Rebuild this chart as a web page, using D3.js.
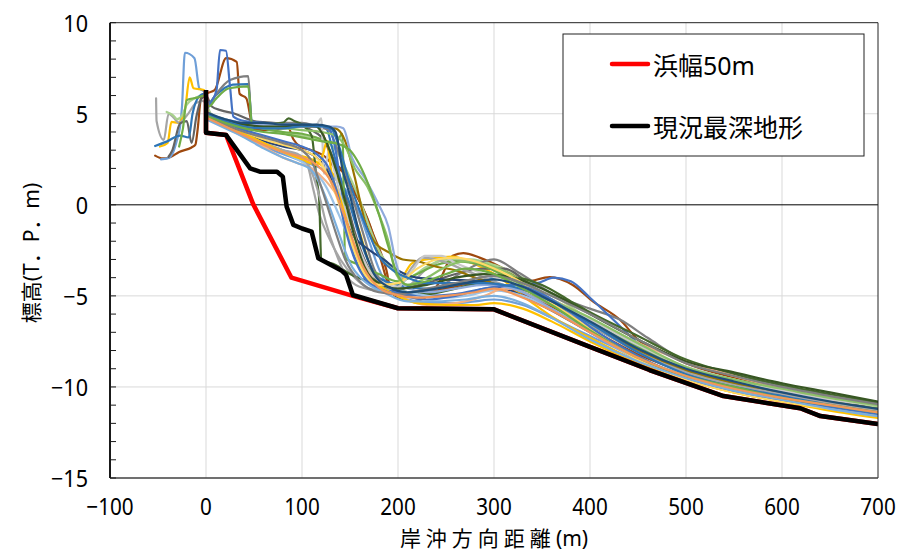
<!DOCTYPE html>
<html><head><meta charset="utf-8">
<script src="https://cdn.jsdelivr.net/npm/d3@7"></script>
<style>
html,body{margin:0;padding:0;background:#fff;}
svg{display:block;font-family:"Noto Sans","Noto Sans CJK JP",sans-serif;}
</style></head><body>
<svg id="chart" width="902" height="552"></svg>
<script>
// Axis ticks
const xTicks = [-100, 0, 100, 200, 300, 400, 500, 600, 700];
const yTicks = [-15, -10, -5, 0, 5, 10];

// Surveyed cross-shore profiles: [distance (m), elevation T.P. (m)]
const p01 = [[-53,2.7],[-45,2.55],[-38,2.6],[-28,2.9],[-15,3.15],[-11,3.3],[-9,4.0],[-5,5.9],[0,6.1],[9,6.3],[21,8.05],[32,7.85],[35,6.1],[42,5.85],[49,4.3],[60,4.25],[85,4.3],[91,3.6],[98,3.2],[110,3.0],[125,2.6],[135,2.0],[145,1.8],[158,0.4],[170,-1.0],[182,-3.0],[192,-4.6],[205,-5.0],[220,-4.9],[250,-4.6],[280,-4.3],[300,-4.4],[330,-4.9],[360,-5.6],[400,-6.8],[450,-8.2],[500,-9.2],[550,-9.9],[600,-10.4],[650,-10.8],[700,-11.2]];
const p02 = [[2,5.1],[20,4.5],[40,4.2],[60,4.1],[80,4.2],[100,4.3],[118,4.3],[125,3.4],[132,2.4],[140,2.0],[150,1.0],[160,0.2],[174,-1.6],[188,-3.6],[193,-4.8],[205,-5.2],[216,-5.3],[240,-4.5],[257,-2.8],[268,-2.65],[285,-2.9],[310,-3.5],[334,-4.2],[358,-3.97],[382,-4.4],[403,-5.3],[431,-6.3],[452,-7.5],[473,-8.0],[500,-8.7],[550,-9.5],[600,-10.1],[650,-10.7],[700,-11.2]];
const p03 = [[-47,2.5],[-40,2.55],[-35,2.8],[-30,3.6],[-27,4.3],[-25,5.4],[-22,8.35],[-12,8.05],[-7,6.4],[-2,6.2],[3,5.0],[15,4.5],[30,4.0],[50,3.5],[70,3.0],[90,2.6],[105,2.3],[120,2.0],[135,1.4],[150,0.5],[160,-0.5],[170,-2.0],[180,-3.5],[190,-4.5],[200,-5.0],[220,-5.3],[240,-5.4],[260,-5.4],[280,-5.3],[300,-5.2],[330,-5.5],[360,-6.2],[400,-7.2],[450,-8.4],[500,-9.4],[550,-10.1],[600,-10.6],[650,-11.1],[700,-11.5]];
const p04 = [[-48,3.2],[-40,3.4],[-36,4.55],[-29,4.5],[-22,5.2],[-17,7.0],[-13,6.4],[-2,6.3],[3,5.0],[15,4.6],[30,4.1],[50,3.6],[70,3.2],[90,2.8],[110,2.5],[125,2.0],[140,1.2],[150,0.0],[160,-1.5],[170,-3.2],[180,-4.3],[195,-4.7],[215,-3.2],[235,-2.95],[257,-2.85],[275,-3.15],[302,-3.85],[330,-5.0],[365,-6.3],[400,-7.3],[450,-8.6],[500,-9.6],[550,-10.3],[600,-10.8],[650,-11.2],[700,-11.6]];
const p05 = [[-52,5.85],[-51.5,4.6],[-44,3.56],[-39,5.0],[-34,4.8],[-28,4.5],[-20,4.9],[-10,5.6],[-3,5.7],[5,5.0],[20,4.6],[40,4.0],[60,3.4],[80,3.0],[95,2.8],[105,2.3],[112,0.8],[118,-0.5],[128,-1.8],[140,-3.0],[155,-4.0],[170,-4.6],[190,-4.8],[210,-4.5],[230,-3.5],[250,-3.0],[270,-3.1],[300,-3.6],[330,-4.5],[360,-5.4],[400,-6.5],[450,-8.0],[500,-9.1],[550,-9.8],[600,-10.3],[650,-10.8],[700,-11.1]];
const p06 = [[-41,5.1],[-37,5.0],[-34,4.9],[-30,4.7],[-25,4.9],[-20,5.5],[-10,5.9],[-3,6.0],[5,5.0],[20,4.7],[40,4.4],[60,4.2],[80,4.0],[100,3.8],[120,3.6],[135,3.0],[150,1.5],[160,0.3],[170,-1.2],[180,-2.5],[195,-3.6],[210,-4.0],[230,-3.4],[250,-3.0],[275,-3.0],[300,-3.3],[330,-4.0],[360,-4.9],[400,-6.3],[450,-7.8],[500,-8.9],[550,-9.6],[600,-10.2],[650,-10.7],[700,-11.1]];
const p07 = [[-39,2.64],[-35,3.0],[-27,4.47],[-20,4.6],[-15,3.4],[-10,4.85],[-5,5.8],[0,6.0],[6,5.4],[15,5.2],[30,5.0],[50,4.6],[70,4.5],[90,4.4],[110,4.1],[125,3.4],[135,2.2],[145,0.5],[155,-1.5],[165,-3.0],[180,-4.2],[200,-4.6],[230,-4.3],[260,-3.8],[290,-3.5],[310,-3.5],[340,-4.5],[370,-5.6],[400,-6.6],[450,-8.0],[500,-9.0],[550,-9.7],[600,-10.2],[650,-10.6],[700,-11.0]];
const p08 = [[-53,3.23],[-41,3.47],[-27,3.8],[-18,3.7],[-14,5.0],[-8,5.9],[-2,6.1],[3,5.6],[10,6.0],[28,6.6],[44,6.63],[48,4.45],[60,4.4],[80,4.5],[100,4.4],[115,4.3],[125,4.2],[132,3.0],[140,1.5],[150,0.0],[160,-1.8],[170,-3.2],[180,-4.0],[200,-4.4],[230,-4.6],[260,-4.4],[290,-4.1],[310,-4.0],[340,-4.6],[370,-5.6],[400,-6.6],[450,-7.9],[500,-9.0],[550,-9.8],[600,-10.3],[650,-10.8],[700,-11.2]];
const p09 = [[0,5.2],[11,6.1],[25,6.85],[44,7.07],[47.5,4.47],[60,4.4],[80,4.5],[100,4.5],[115,4.3],[128,4.1],[135,3.3],[145,1.8],[155,0.0],[165,-1.8],[175,-3.5],[190,-4.6],[210,-5.0],[240,-4.6],[270,-3.6],[300,-3.0],[325,-3.7],[365,-5.0],[400,-5.7],[431,-6.3],[460,-7.3],[500,-8.6],[550,-9.3],[600,-9.9],[650,-10.5],[700,-10.9]];
const p10 = [[0,5.2],[5,5.6],[11,6.3],[14.6,8.5],[20.8,8.46],[25,6.5],[28.5,4.84],[40,4.6],[60,4.5],[80,4.4],[100,4.4],[120,4.3],[128,4.2],[135,3.0],[142,0.5],[150,-2.0],[160,-3.5],[175,-4.4],[200,-4.8],[230,-5.0],[260,-4.9],[290,-4.6],[320,-4.4],[345,-4.3],[362,-4.0],[380,-4.2],[400,-5.1],[430,-6.6],[450,-7.6],[500,-9.2],[550,-10.0],[600,-10.5],[650,-11.0],[700,-11.4]];
const p11 = [[-28,3.2],[-24,4.2],[-20,5.75],[-8,5.9],[-2,6.0],[3,5.4],[10,5.8],[24,6.4],[44,6.5],[48,4.4],[60,4.2],[80,4.0],[100,3.9],[115,3.7],[125,3.5],[135,3.4],[142,3.9],[145,-2.9],[160,-3.3],[180,-3.8],[200,-4.2],[220,-3.8],[240,-3.3],[260,-3.1],[280,-3.2],[300,-3.6],[330,-4.4],[360,-5.2],[400,-6.4],[450,-7.8],[500,-9.0],[550,-9.7],[600,-10.3],[650,-10.8],[700,-11.3]];
const p12 = [[0,4.9],[20,4.6],[40,4.5],[60,4.4],[80,4.5],[86,4.75],[92,4.6],[100,4.4],[110,3.8],[115,1.5],[118,0.2],[120,-3.0],[135,-3.3],[150,-3.8],[175,-4.3],[200,-4.7],[230,-4.9],[260,-4.6],[290,-4.2],[320,-4.0],[350,-4.4],[380,-5.3],[400,-5.9],[450,-7.2],[500,-8.5],[550,-9.3],[600,-9.9],[650,-10.4],[700,-10.85]];
const p13 = [[0,4.9],[20,4.6],[40,4.4],[60,4.3],[80,4.3],[100,4.3],[120,4.3],[135,4.2],[145,3.5],[155,1.5],[165,-0.8],[175,-2.0],[190,-2.6],[205,-3.0],[220,-3.1],[240,-3.4],[260,-3.6],[280,-4.0],[300,-4.3],[330,-4.8],[360,-5.5],[400,-6.6],[450,-8.0],[500,-9.1],[550,-9.8],[600,-10.3],[650,-10.8],[700,-11.2]];
const p14 = [[0,4.8],[20,4.4],[40,3.9],[60,3.5],[80,3.2],[100,3.0],[115,2.6],[125,2.0],[135,0.8],[145,-0.8],[155,-1.8],[168,-2.4],[185,-3.0],[200,-3.6],[220,-4.0],[250,-4.1],[280,-4.2],[300,-4.4],[330,-5.0],[360,-5.8],[400,-7.0],[450,-8.4],[500,-9.5],[550,-10.2],[600,-10.7],[650,-11.2],[700,-11.6]];
const p15 = [[2,4.8],[20,4.3],[40,3.8],[60,3.3],[80,2.9],[95,2.5],[110,2.0],[125,1.0],[138,-0.5],[150,-2.0],[160,-3.2],[175,-4.2],[195,-4.6],[220,-4.9],[250,-5.1],[270,-5.0],[300,-4.7],[330,-5.0],[360,-5.7],[400,-6.9],[450,-8.4],[500,-9.4],[550,-10.1],[600,-10.6],[650,-11.0],[700,-11.4]];
const p16 = [[2,4.7],[20,4.3],[40,3.8],[60,3.2],[80,2.6],[95,2.3],[110,2.0],[125,1.3],[140,0.2],[150,-1.0],[160,-2.5],[170,-3.8],[185,-4.6],[200,-5.0],[230,-5.5],[260,-5.4],[290,-5.0],[310,-4.6],[340,-4.8],[380,-5.7],[420,-6.8],[455,-7.7],[500,-8.6],[550,-9.4],[600,-10.1],[650,-10.6],[700,-11.0]];
const p17 = [[0,4.9],[20,4.4],[40,3.9],[60,3.4],[80,3.0],[100,2.6],[110,1.8],[118,0.5],[125,-1.0],[135,-2.6],[145,-3.8],[160,-4.5],[180,-4.7],[200,-4.5],[215,-3.4],[225,-2.9],[240,-3.0],[270,-3.6],[300,-4.2],[330,-4.8],[360,-5.5],[400,-6.6],[450,-8.1],[500,-9.2],[550,-9.9],[600,-10.4],[650,-10.9],[700,-11.3]];
const p18 = [[0,5.0],[20,4.6],[40,4.3],[60,4.3],[80,4.3],[100,4.3],[115,4.4],[120,4.75],[123,1.7],[128,3.0],[133,2.0],[140,0.5],[150,-1.0],[160,-2.5],[170,-3.6],[185,-4.3],[200,-4.5],[215,-3.6],[228,-2.8],[245,-2.8],[260,-3.2],[290,-3.8],[320,-4.3],[360,-5.2],[400,-6.3],[450,-7.7],[500,-8.9],[550,-9.6],[600,-10.2],[650,-10.7],[700,-11.0]];
const p19 = [[0,4.9],[20,4.4],[40,3.9],[60,3.4],[80,2.9],[100,2.5],[115,2.2],[122,2.8],[126,3.5],[130,2.0],[140,0.3],[150,-1.5],[160,-3.0],[170,-4.0],[185,-4.6],[200,-5.0],[220,-5.4],[250,-5.5],[280,-5.5],[300,-5.4],[330,-5.7],[360,-6.4],[400,-7.5],[450,-8.7],[500,-9.6],[550,-10.3],[600,-10.8],[650,-11.3],[700,-11.7]];
const p20 = [[0,5.0],[20,4.7],[40,4.5],[60,4.4],[80,4.4],[100,4.4],[120,4.3],[136,4.3],[143,4.2],[152,2.6],[165,1.5],[180,0.0],[190,-1.2],[198,-3.2],[210,-4.6],[230,-4.8],[260,-4.6],[290,-4.4],[320,-4.6],[360,-5.7],[400,-7.0],[450,-8.5],[500,-9.5],[550,-10.2],[600,-10.7],[650,-11.1],[700,-11.5]];
const p21 = [[0,4.8],[20,4.5],[40,4.3],[60,4.2],[80,4.2],[100,4.1],[120,4.0],[135,3.8],[145,3.2],[155,2.0],[168,1.0],[180,-0.5],[190,-2.0],[198,-3.8],[210,-4.4],[230,-4.0],[250,-3.4],[270,-3.1],[300,-3.4],[330,-4.2],[360,-5.2],[400,-6.2],[450,-7.6],[500,-8.9],[550,-9.6],[600,-10.1],[650,-10.6],[700,-11.0]];
const p22 = [[0,5.0],[20,4.6],[40,4.4],[60,4.3],[80,4.3],[100,4.4],[115,4.3],[125,3.5],[135,2.0],[145,0.2],[155,-1.8],[165,-3.4],[180,-4.3],[200,-4.6],[230,-4.4],[260,-4.0],[290,-3.8],[320,-4.0],[350,-4.6],[380,-5.4],[400,-6.0],[450,-7.4],[500,-8.6],[550,-9.2],[600,-9.8],[650,-10.3],[700,-10.8]];
const p23 = [[0,4.8],[20,4.4],[40,4.0],[60,3.6],[80,3.3],[100,3.0],[115,2.6],[125,1.8],[135,0.6],[145,-1.0],[155,-2.6],[165,-3.8],[180,-4.4],[200,-4.3],[220,-3.5],[240,-3.0],[260,-2.9],[280,-3.1],[300,-3.5],[330,-4.3],[360,-5.4],[400,-6.8],[450,-8.5],[500,-9.6],[550,-10.3],[600,-10.8],[650,-11.2],[700,-11.6]];
const p24 = [[0,4.9],[20,4.5],[40,4.1],[60,3.8],[80,3.5],[100,3.2],[115,2.8],[128,2.0],[138,0.4],[146,-1.5],[155,-3.0],[168,-4.2],[185,-4.7],[205,-5.0],[230,-5.2],[260,-5.0],[290,-4.6],[320,-4.4],[350,-4.9],[380,-5.9],[400,-6.7],[450,-8.3],[500,-9.5],[550,-10.2],[600,-10.7],[650,-11.1],[700,-11.5]];
const p25 = [[0,4.7],[20,4.2],[40,3.7],[60,3.1],[80,2.6],[95,2.3],[110,1.9],[120,1.0],[130,-0.3],[140,-1.8],[150,-3.2],[165,-4.2],[185,-4.8],[210,-5.3],[240,-5.3],[270,-5.2],[300,-5.0],[330,-5.4],[360,-6.2],[400,-7.4],[450,-8.6],[500,-9.5],[550,-10.2],[600,-10.7],[650,-11.2],[700,-11.6]];
const p26 = [[0,5.0],[20,4.6],[40,4.3],[60,4.2],[80,4.2],[100,4.3],[120,4.3],[130,4.2],[138,3.3],[148,1.5],[160,-0.3],[170,-1.6],[180,-2.8],[195,-3.6],[210,-4.0],[230,-4.3],[260,-4.3],[290,-4.3],[320,-4.5],[360,-5.3],[400,-6.5],[450,-8.1],[500,-9.3],[550,-10.0],[600,-10.5],[650,-11.0],[700,-11.4]];
const p27 = [[0,4.9],[20,4.4],[40,4.0],[60,3.7],[80,3.4],[100,3.0],[110,2.4],[118,1.3],[126,0.0],[135,-1.5],[145,-3.0],[160,-4.2],[180,-4.8],[200,-4.9],[230,-4.6],[260,-4.3],[300,-3.9],[330,-4.3],[360,-5.0],[400,-6.0],[450,-7.4],[500,-8.7],[550,-9.4],[600,-10.0],[650,-10.5],[700,-10.95]];
const p28 = [[0,4.9],[20,4.5],[40,4.2],[60,4.0],[80,3.9],[100,3.7],[120,3.5],[140,3.3],[150,3.0],[160,2.2],[170,1.0],[180,-0.5],[190,-2.3],[200,-3.9],[210,-4.4],[230,-4.2],[250,-3.8],[270,-3.5],[300,-3.8],[330,-4.6],[360,-5.5],[400,-6.9],[450,-8.4],[500,-9.4],[550,-10.0],[600,-10.6],[650,-11.0],[700,-11.4]];
const p29 = [[0,4.8],[20,4.3],[40,3.8],[60,3.3],[80,2.9],[100,2.6],[115,2.2],[130,1.3],[140,0.0],[150,-1.5],[160,-3.0],[175,-4.3],[195,-4.9],[220,-5.1],[250,-5.0],[280,-4.8],[300,-4.6],[330,-5.1],[360,-5.8],[400,-7.0],[450,-8.4],[500,-9.4],[550,-10.1],[600,-10.6],[650,-11.0],[700,-11.4]];
const p30 = [[0,5.1],[20,4.7],[40,4.5],[60,4.5],[80,4.4],[100,4.4],[115,4.4],[128,4.3],[135,4.0],[142,2.0],[150,0.5],[158,-1.2],[166,-2.6],[175,-3.8],[190,-4.5],[210,-4.8],[240,-4.6],[270,-4.3],[300,-4.1],[330,-4.5],[360,-5.3],[400,-6.4],[450,-7.9],[500,-9.0],[550,-9.7],[600,-10.3],[650,-10.8],[700,-11.2]];

const profiles = [p01,p02,p03,p04,p05,p06,p07,p08,p09,p10,p11,p12,p13,p14,p15,p16,p17,p18,p19,p20,p21,p22,p23,p24,p25,p26,p27,p28,p29,p30];
const profileColors = ["#9E480E","#9E480E","#6F9FD8","#FFC000","#A5A5A5","#A9D18E","#636363","#2E75B6","#7F7F7F","#4472C4",
  "#70AD47","#43682B","#997300","#264478","#9DC3E6","#F4B183","#A5A5A5","#C9C9C9","#FFC000","#8FAADC",
  "#8CC168","#375623","#FFD966","#4472C4","#7CAFDD","#2E75B6","#7F7F7F","#70AD47","#F1975A","#1F4E79"];

// Design profile (beach width 50 m) and deepest present-day profile
const beach50 = [[0,6.3],[0,3.96],[21,3.83],[49,0.05],[89,-4.0],[153,-5.0],[200,-5.68],[300,-5.74],[400,-7.8],[462,-9.07],[539,-10.5],[619,-11.17],[640,-11.6],[700,-12.04]];
const deepest = [[0,6.3],[0,3.96],[21,3.83],[46,2.0],[56,1.82],[74,1.82],[80,1.55],[84,-0.1],[91,-1.1],[100,-1.3],[110,-1.47],[117,-2.94],[141,-3.6],[146,-3.85],[153,-4.95],[200,-5.68],[300,-5.74],[400,-7.8],[462,-9.07],[539,-10.5],[619,-11.17],[640,-11.6],[700,-12.04]];

const legendItems = [
  {label: "浜幅50m", color: "#FF0000"},
  {label: "現況最深地形", color: "#000000"}
];

const svg = d3.select("#chart");
const L = 110, R = 878, T = 22.7, B = 478;
const x = d3.scaleLinear().domain([-100, 700]).range([L, R]);
const y = d3.scaleLinear().domain([-15, 10]).range([B, T]);

// gridlines
const grid = svg.append("g");
grid.selectAll("line.gx").data(xTicks.slice(1, -1)).join("line")
  .attr("x1", d => x(d)).attr("x2", d => x(d)).attr("y1", T).attr("y2", B)
  .attr("stroke", "#d9d9d9").attr("stroke-width", 1);
grid.selectAll("line.gy").data(yTicks.filter(d => d !== 0 && d !== -15 && d !== 10)).join("line")
  .attr("x1", L).attr("x2", R).attr("y1", d => y(d)).attr("y2", d => y(d))
  .attr("stroke", "#d9d9d9").attr("stroke-width", 1);

svg.append("defs").append("clipPath").attr("id", "plot")
  .append("rect").attr("x", L).attr("y", T).attr("width", R - L).attr("height", B - T);

// zero line
svg.append("line").attr("x1", L).attr("x2", R).attr("y1", y(0)).attr("y2", y(0))
  .attr("stroke", "#000").attr("stroke-width", 1);

const smooth = d3.line().x(d => x(d[0])).y(d => y(d[1])).curve(d3.curveMonotoneX);
const straight = d3.line().x(d => x(d[0])).y(d => y(d[1]));

const plot = svg.append("g").attr("clip-path", "url(#plot)");
plot.selectAll("path.profile").data(profiles).join("path")
  .attr("class", "profile")
  .attr("d", smooth)
  .attr("fill", "none")
  .attr("stroke", (d, i) => profileColors[i])
  .attr("stroke-width", 2.2)
  .attr("stroke-linejoin", "round").attr("stroke-linecap", "round");

plot.append("path").attr("d", straight(beach50)).attr("fill", "none")
  .attr("stroke", "#FF0000").attr("stroke-width", 4.5).attr("stroke-linejoin", "round");
plot.append("path").attr("d", straight(deepest)).attr("fill", "none")
  .attr("stroke", "#000").attr("stroke-width", 4.5).attr("stroke-linejoin", "round");

// frame
svg.append("line").attr("x1", L).attr("x2", R).attr("y1", T).attr("y2", T).attr("stroke", "#222").attr("stroke-width", 1);
svg.append("line").attr("x1", R).attr("x2", R).attr("y1", T).attr("y2", B).attr("stroke", "#222").attr("stroke-width", 1);
svg.append("line").attr("x1", L).attr("x2", R).attr("y1", B).attr("y2", B).attr("stroke", "#404040").attr("stroke-width", 1.5);
svg.append("line").attr("x1", L).attr("x2", L).attr("y1", T).attr("y2", B).attr("stroke", "#1a1a1a").attr("stroke-width", 2);

// minor ticks on the y axis, every 1 m, pointing inward
const minor = d3.range(-15, 10.001, 1);
svg.append("g").selectAll("line").data(minor).join("line")
  .attr("x1", L).attr("x2", L + 6).attr("y1", d => y(d)).attr("y2", d => y(d))
  .attr("stroke", "#1a1a1a").attr("stroke-width", 1);

// tick labels (slightly condensed)
const fmt = d => (d < 0 ? "\u2212" + Math.abs(d) : String(d));
svg.append("g").selectAll("text").data(yTicks).join("text")
  .attr("transform", d => `translate(88,${y(d)}) scale(0.9,1)`)
  .attr("text-anchor", "end")
  .attr("dominant-baseline", "central").attr("font-size", 24).attr("fill", "#000")
  .text(fmt);
svg.append("g").selectAll("text").data(xTicks).join("text")
  .attr("transform", d => `translate(${x(d)},514.5) scale(0.9,1)`)
  .attr("text-anchor", "middle")
  .attr("font-size", 23).attr("fill", "#000")
  .text(fmt);

// axis titles
svg.append("text").attr("transform", "translate(31,253) rotate(-90)")
  .attr("text-anchor", "middle").attr("dominant-baseline", "central")
  .attr("font-size", 21).attr("fill", "#000").text("標高(T．P．m)");
const xTitle = svg.append("text").attr("x", (L + R) / 2).attr("y", 545.5)
  .attr("text-anchor", "middle").attr("font-size", 21).attr("fill", "#000");
xTitle.append("tspan").attr("letter-spacing", 5).text("岸沖方向距離");
xTitle.append("tspan").text("(m)");

// legend
const lg = svg.append("g");
lg.append("rect").attr("x", 563).attr("y", 34).attr("width", 301).attr("height", 122)
  .attr("fill", "#fff").attr("stroke", "#222").attr("stroke-width", 1);
const rows = lg.selectAll("g.item").data(legendItems).join("g")
  .attr("transform", (d, i) => `translate(0,${i === 0 ? 64 : 126})`);
rows.append("line").attr("x1", 612).attr("x2", 648).attr("y1", 0).attr("y2", 0)
  .attr("stroke", d => d.color).attr("stroke-width", 4.5).attr("stroke-linecap", "round");
rows.append("text").attr("x", 653).attr("y", 1).attr("dominant-baseline", "central")
  .attr("font-size", 25).attr("fill", "#000").text(d => d.label);
</script>
</body></html>
